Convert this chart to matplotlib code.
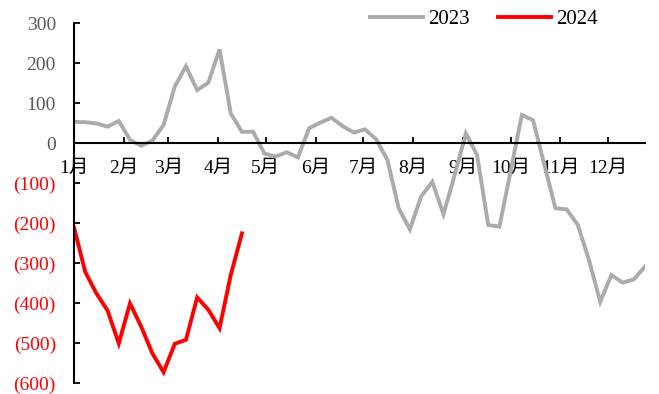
import numpy as np
import matplotlib
matplotlib.use("Agg")
import matplotlib.pyplot as plt

plt.rcParams['font.family'] = ['Liberation Serif', 'Noto Sans CJK SC']

# weekly values
s2023 = [53, 52, 49, 41, 55, 8, -7, 6, 45, 141, 192, 132, 151, 234, 74, 28,
         28, -26, -34, -23, -36, 37, 51, 63, 42, 26, 34, 9, -43, -163, -216,
         -134, -97, -178, -80, 24, -30, -205, -209, -70, 70, 57, -53, -163,
         -166, -205, -293, -397, -330, -349, -341, -309]
s2024 = [-211, -322, -376, -419, -501, -401, -459, -526, -573, -502, -492,
         -386, -417, -463, -330, -226]

months = ['1月', '2月', '3月', '4月', '5月', '6月', '7月', '8月', '9月',
          '10月', '11月', '12月']
month_days = [31, 28, 31, 30, 31, 30, 31, 31, 30, 31, 30, 31]
yticks = [-600, -500, -400, -300, -200, -100, 0, 100, 200, 300]

month_pos = np.concatenate([[0], np.cumsum(month_days)[:-1]]) / 7.0

fig = plt.figure(figsize=(6.59, 3.94), dpi=100)
ax = fig.add_axes([74 / 659, 11 / 394, 571 / 659, 360 / 394])

ax.plot(np.arange(len(s2023)), s2023, color='#AEAAAA', lw=2.8, label='2023',
        solid_joinstyle='miter')
ax.plot(np.arange(len(s2024)), s2024, color='#FF0000', lw=2.8, label='2024',
        solid_joinstyle='miter')

ax.set_xlim(0, len(s2023) - 1)
ax.set_ylim(-600, 300)

ax.spines['top'].set_visible(False)
ax.spines['right'].set_visible(False)
ax.spines['bottom'].set_position(('data', 0))
ax.spines['bottom'].set_linewidth(1.5)
ax.spines['left'].set_linewidth(1.5)

ax.set_xticks(month_pos)
ax.set_xticklabels(months)
ax.tick_params(axis='x', direction='in', length=4.5, width=1.3, pad=12,
               labelsize=14, labelcolor='black')
ax.set_yticks(yticks)
ax.set_yticklabels([f'({-v})' if v < 0 else str(v) for v in yticks])
ax.tick_params(axis='y', direction='in', length=4.5, width=1.3, pad=13,
               labelsize=14)
for v, lab in zip(yticks, ax.get_yticklabels()):
    lab.set_color('#FF0000' if v < 0 else '#595959')

ax.legend(loc='center', bbox_to_anchor=(0.7345, 0.950),
          bbox_transform=fig.transFigure, ncol=2, frameon=False,
          fontsize=15, handlelength=2.55, handletextpad=0.25,
          columnspacing=1.35)

fig.savefig('out.png', dpi=100)
